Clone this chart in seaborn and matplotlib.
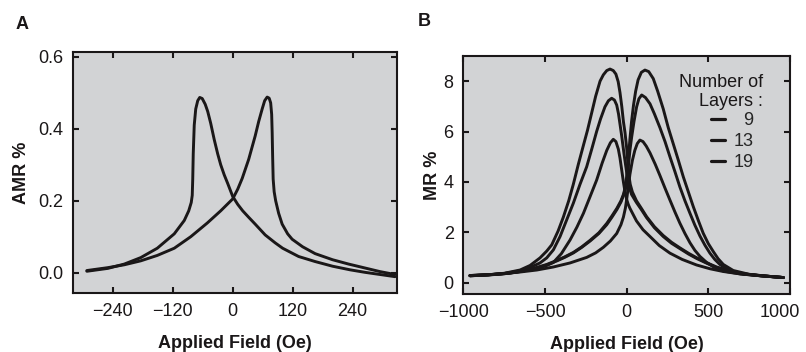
import matplotlib
matplotlib.use("Agg")
import matplotlib.pyplot as plt
import matplotlib.transforms as mtransforms
import seaborn as sns
import pandas as pd

# ---- panel A : AMR loop, two sweep branches (field in Oe, AMR in %)
amr_a_field = [-292, -250, -217, -184, -151, -117, -97, -88, -83, -81, -80, -79, -77, -74, -70, -66,
               -61, -55, -50, -44, -37, -30, -24, -17, -10, 0, 10, 20, 32, 45, 65, 85, 100, 132,
               165, 200, 235, 265, 295, 325]
amr_a = [0.004, 0.012, 0.024, 0.042, 0.068, 0.108, 0.145, 0.172, 0.195, 0.215, 0.26, 0.33, 0.41,
         0.455, 0.478, 0.487, 0.484, 0.468, 0.448, 0.415, 0.37, 0.33, 0.30, 0.272, 0.248, 0.212,
         0.19, 0.172, 0.154, 0.135, 0.105, 0.083, 0.068, 0.045, 0.031, 0.018, 0.008, 0.001,
         -0.005, -0.011]
amr_b_field = [-292, -250, -217, -184, -151, -117, -84, -51, -24, 0, 10, 19, 32, 45, 52, 59, 64,
               69, 73, 76, 78, 79, 80, 81, 83, 86, 92, 99, 110, 119, 140, 165, 200, 232, 265,
               295, 325]
amr_b = [0.006, 0.014, 0.022, 0.033, 0.048, 0.068, 0.1, 0.138, 0.172, 0.205, 0.232, 0.262, 0.315,
         0.38, 0.42, 0.455, 0.478, 0.488, 0.485, 0.472, 0.44, 0.39, 0.32, 0.26, 0.225, 0.2, 0.165,
         0.135, 0.108, 0.093, 0.072, 0.053, 0.036, 0.024, 0.013, 0.003, -0.005]

# ---- panel B : MR loops for three layer counts, two branches each
layer_names = ["  9", "13", "19"]

# left-peak branches
mr_l19_field = [-960, -850, -750, -653, -592, -531, -490, -459, -420, -388, -355, -327, -296, -265,
                -240, -214, -190, -163, -143, -122, -102, -82, -66, -52, -41, -30, -20, -10, 0, 8,
                15, 22, 35, 60, 90, 122, 170, 224, 275, 326, 380, 428, 490, 551, 632, 720, 820, 960]
mr_l19 = [0.27, 0.31, 0.37, 0.5, 0.68, 0.98, 1.25, 1.5, 2.05, 2.6, 3.25, 3.9, 4.7, 5.45, 6.05, 6.75,
          7.4, 8.0, 8.25, 8.42, 8.48, 8.42, 8.28, 7.98, 7.55, 7.0, 6.4, 5.95, 5.35, 4.7, 4.2, 3.9,
          3.6, 3.25, 2.95, 2.62, 2.22, 1.87, 1.6, 1.38, 1.16, 0.99, 0.79, 0.62, 0.46, 0.35, 0.27, 0.2]
mr_l13_field = [-960, -850, -750, -653, -592, -531, -490, -449, -408, -370, -327, -286, -245, -214,
                -184, -160, -133, -112, -92, -75, -61, -50, -41, -30, -16, -5, 5, 15, 30, 60, 90,
                122, 170, 224, 275, 326, 380, 428, 490, 551, 632, 720, 820, 960]
mr_l13 = [0.27, 0.31, 0.36, 0.47, 0.6, 0.78, 0.98, 1.3, 1.83, 2.45, 3.15, 3.9, 4.6, 5.3, 6.0, 6.5,
          6.98, 7.22, 7.32, 7.25, 7.05, 6.7, 6.3, 5.8, 5.1, 4.6, 4.15, 3.8, 3.5, 3.18, 2.9, 2.58,
          2.18, 1.83, 1.56, 1.35, 1.13, 0.96, 0.77, 0.6, 0.45, 0.34, 0.27, 0.2]
mr_l9_field = [-960, -850, -750, -653, -592, -531, -490, -449, -400, -347, -305, -265, -225, -184,
               -150, -122, -100, -82, -66, -51, -41, -31, -20, -10, 0, 10, 20, 40, 60, 100, 143,
               200, 265, 340, 428, 510, 592, 700, 820, 960]
mr_l9 = [0.27, 0.3, 0.35, 0.44, 0.52, 0.6, 0.68, 0.8, 1.15, 1.69, 2.2, 2.75, 3.4, 4.07, 4.75, 5.25,
         5.55, 5.69, 5.6, 5.3, 4.95, 4.5, 4.0, 3.6, 3.3, 3.1, 2.95, 2.7, 2.45, 2.1, 1.83, 1.47,
         1.17, 0.92, 0.7, 0.55, 0.44, 0.34, 0.27, 0.2]

# right-peak branches
mr_r19_field = [-960, -820, -720, -632, -551, -490, -428, -380, -326, -275, -224, -170, -122, -90,
                -60, -35, -20, -10, 0, 10, 20, 30, 42, 55, 70, 90, 112, 135, 163, 190, 224, 255,
                286, 317, 347, 378, 408, 440, 469, 500, 531, 560, 592, 653, 750, 850, 960]
mr_r19 = [0.28, 0.32, 0.38, 0.47, 0.6, 0.72, 0.88, 1.02, 1.2, 1.42, 1.68, 1.98, 2.35, 2.65, 2.95,
          3.25, 3.5, 3.75, 4.2, 4.9, 5.7, 6.4, 7.05, 7.6, 8.05, 8.35, 8.44, 8.38, 8.1, 7.6, 6.9,
          6.15, 5.5, 4.85, 4.2, 3.6, 3.02, 2.45, 1.96, 1.55, 1.23, 0.95, 0.72, 0.48, 0.33, 0.26, 0.2]
mr_r13_field = [-960, -820, -720, -632, -551, -490, -428, -380, -326, -275, -224, -170, -122, -90,
                -60, -35, -20, -8, 0, 10, 20, 30, 45, 61, 75, 92, 115, 143, 170, 204, 235, 265,
                296, 326, 357, 388, 418, 449, 480, 510, 540, 571, 632, 720, 850, 960]
mr_r13 = [0.28, 0.32, 0.37, 0.46, 0.58, 0.7, 0.86, 1.0, 1.18, 1.4, 1.65, 1.95, 2.3, 2.6, 2.9, 3.2,
          3.45, 3.7, 4.0, 4.6, 5.25, 5.75, 6.4, 6.98, 7.3, 7.45, 7.35, 7.1, 6.7, 6.15, 5.6, 5.0,
          4.4, 3.8, 3.25, 2.75, 2.28, 1.85, 1.48, 1.17, 0.92, 0.72, 0.46, 0.34, 0.26, 0.2]
mr_r9_field = [-960, -850, -750, -653, -550, -449, -347, -245, -190, -143, -100, -61, -35, -20, -8,
               0, 10, 20, 35, 50, 65, 81, 100, 120, 143, 175, 204, 235, 265, 296, 326, 357, 388,
               418, 449, 490, 531, 592, 700, 850, 960]
mr_r9 = [0.28, 0.31, 0.36, 0.42, 0.5, 0.62, 0.78, 1.0, 1.18, 1.4, 1.65, 1.95, 2.3, 2.6, 2.95, 3.3,
         3.8, 4.3, 4.85, 5.25, 5.52, 5.66, 5.6, 5.42, 5.15, 4.7, 4.25, 3.75, 3.28, 2.8, 2.36, 1.95,
         1.58, 1.28, 1.04, 0.8, 0.63, 0.46, 0.34, 0.26, 0.2]

ink = "#1a1718"
panel_bg = "#d2d3d5"

sns.set_theme(style="ticks")
plt.rcParams["font.family"] = ["Liberation Sans", "DejaVu Sans"]
plt.rcParams["axes.linewidth"] = 1.5

dfA = pd.concat([
    pd.DataFrame({"field": amr_a_field, "amr": amr_a, "branch": "a"}),
    pd.DataFrame({"field": amr_b_field, "amr": amr_b, "branch": "b"}),
])

pieces = []
for name, fx, fy, side in [
    (layer_names[2], mr_l19_field, mr_l19, "l"), (layer_names[1], mr_l13_field, mr_l13, "l"),
    (layer_names[0], mr_l9_field, mr_l9, "l"), (layer_names[2], mr_r19_field, mr_r19, "r"),
    (layer_names[1], mr_r13_field, mr_r13, "r"), (layer_names[0], mr_r9_field, mr_r9, "r"),
]:
    pieces.append(pd.DataFrame({"field": fx, "mr": fy, "layers": name, "branch": name + side}))
dfB = pd.concat(pieces)

fig = plt.figure(figsize=(8.06, 3.52), dpi=100)
axA = fig.add_axes([0.091, 0.167, 0.401, 0.686])
axB = fig.add_axes([0.575, 0.165, 0.405, 0.676])

sns.lineplot(data=dfA, x="field", y="amr", units="branch", estimator=None, sort=False,
             color=ink, linewidth=2.1, ax=axA)
sns.lineplot(data=dfB, x="field", y="mr", hue="layers", hue_order=layer_names, units="branch",
             estimator=None, sort=False, palette=[ink] * 3, linewidth=2.1, ax=axB)

for ax in (axA, axB):
    ax.set_facecolor(panel_bg)
    ax.tick_params(direction="in", top=True, right=True, length=4, width=1.5,
                   labelsize=13, pad=7, colors=ink)
    for s in ax.spines.values():
        s.set_color(ink)
        s.set_linewidth(1.5)

axA.set_xlim(-319, 328)
axA.set_ylim(-0.057, 0.614)
axA.set_xticks([-240, -120, 0, 120, 240])
axA.set_yticks([0.0, 0.2, 0.4, 0.6])
axA.set_yticklabels(["0.0", "0.2", "0.4", "0.6"])
axA.set_xlabel("Applied Field (Oe)", fontsize=13, fontweight="bold", labelpad=11, color=ink)
axA.set_ylabel("AMR %", fontsize=13, fontweight="bold", labelpad=6, color=ink)

axB.set_xlim(-1000, 1000)
axB.set_ylim(-0.45, 9.0)
axB.set_xticks([-1000, -500, 0, 500, 1000])
axB.set_yticks([0, 2, 4, 6, 8])
axB.set_xlabel("Applied Field (Oe)", fontsize=13, fontweight="bold", labelpad=11, color=ink)
axB.set_ylabel("MR %", fontsize=13, fontweight="bold", labelpad=2, color=ink)

# the last field label sits pulled in from the figure edge, as in the original
last = axB.get_xticklabels()[-1]
last.set_horizontalalignment("right")
last.set_transform(last.get_transform()
                   + mtransforms.ScaledTranslation(7 / 72, 0, fig.dpi_scale_trans))

sns.move_legend(axB, "upper right", bbox_to_anchor=(0.89, 0.765), title=None,
                frameon=False, handlelength=0.75, handletextpad=0.5, labelspacing=0.22,
                borderpad=0, borderaxespad=0, fontsize=13)
leg = axB.get_legend()
for ln in leg.get_lines():
    ln.set_linewidth(2.3)
axB.text(0.917, 0.848, "Number of\nLayers :", transform=axB.transAxes, ha="right",
         va="center", multialignment="right", fontsize=13, linespacing=1.12, color=ink)

fig.text(0.019, 0.93, "A", fontsize=13, fontweight="bold", va="center", color=ink)
fig.text(0.518, 0.94, "B", fontsize=13, fontweight="bold", va="center", color=ink)

fig.savefig("out.png", dpi=100, facecolor="white")
